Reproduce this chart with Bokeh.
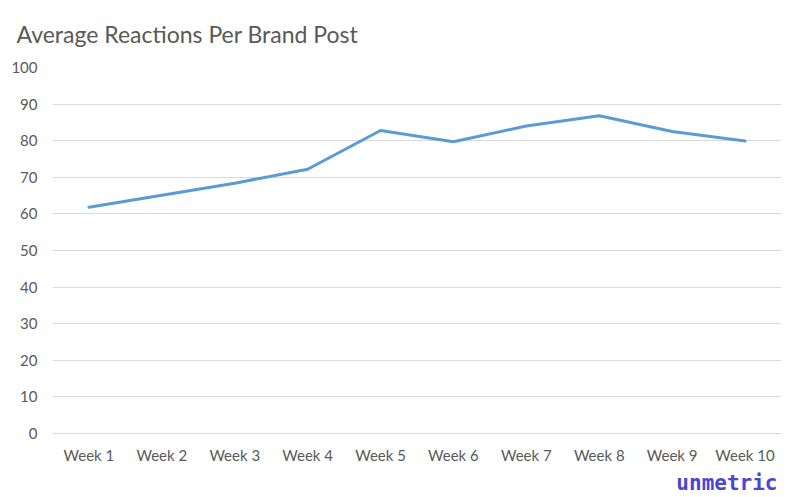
from bokeh.plotting import figure
from bokeh.models import Title, Range1d, SingleIntervalTicker
from bokeh.embed import file_html
from bokeh.resources import INLINE

weeks = ["Week 1", "Week 2", "Week 3", "Week 4", "Week 5",
         "Week 6", "Week 7", "Week 8", "Week 9", "Week 10"]
reactions = [61.8, 65.1, 68.4, 72.2, 82.8, 79.7, 84.0, 86.8, 82.5, 79.9]
title_text = "Average Reactions Per Brand Post"
brand = "unmetric"

W, H = 800, 497
FL, FT, FR, FB = 52, 67, 781, 434  # frame edges in page pixels

p = figure(x_range=weeks, y_range=Range1d(0, 100), width=W, height=H,
           output_backend="svg", toolbar_location=None,
           min_border_left=FL, min_border_right=W - FR,
           min_border_top=FT, min_border_bottom=H - FB)
p.outline_line_color = None
p.background_fill_color = "white"
p.border_fill_color = "white"

p.line(x=weeks, y=reactions, line_color="#5B9BD5", line_width=3,
       line_join="round", line_cap="round")

p.yaxis.ticker = SingleIntervalTicker(interval=10)
for ax in (p.xaxis, p.yaxis):
    ax.axis_line_color = None
    ax.major_tick_line_color = None
    ax.minor_tick_line_color = None
    ax.major_tick_out = 0
    ax.major_tick_in = 0
    ax.minor_tick_out = 0
    ax.major_label_text_font = "Lato"
    ax.major_label_text_font_size = "15px"
    ax.major_label_text_color = "#595959"
p.yaxis.major_label_standoff = 15
p.xaxis.major_label_standoff = 12

p.xgrid.grid_line_color = None
p.ygrid.grid_line_color = "#D9D9D9"
p.ygrid.grid_line_width = 1
p.xaxis.axis_line_color = "#D9D9D9"

p.title = Title(text=title_text, align="left", offset=-36, standoff=36,
                vertical_align="top",
                text_font="Lato", text_font_size="23px", text_font_style="normal",
                text_color="#595959")
p.add_layout(Title(text=brand, align="right", offset=4, standoff=5,
                   text_font="DejaVu Sans Mono", text_font_style="bold",
                   text_font_size="21px", text_color="#4A45D4"), "below")

open("out.html", "w").write(file_html(p, INLINE))
